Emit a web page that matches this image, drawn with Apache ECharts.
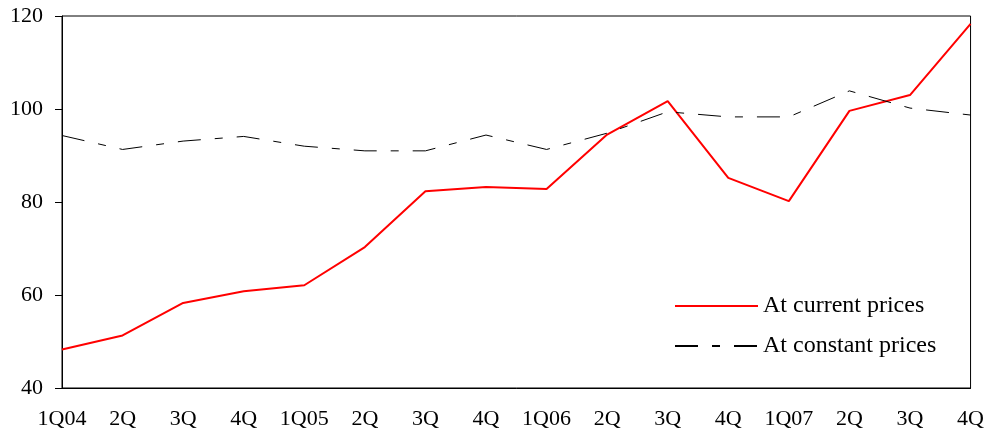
<!DOCTYPE html>
<html>
<head>
<meta charset="utf-8">
<script src="https://cdn.jsdelivr.net/npm/echarts@6/dist/echarts.min.js"></script>
<style>
html,body{margin:0;padding:0;background:#fff;}
#chart{width:987px;height:434px;}
</style>
</head>
<body>
<div id="chart"></div>
<script>
var categories = ['1Q04','2Q','3Q','4Q','1Q05','2Q','3Q','4Q','1Q06','2Q','3Q','4Q','1Q07','2Q','3Q','4Q'];
var currentPrices = [48.3, 51.3, 58.3, 60.8, 62.1, 70.3, 82.3, 83.2, 82.8, 94.5, 101.7, 85.2, 80.2, 99.6, 103.0, 118.3];
var constantPrices = [94.3, 91.3, 93.1, 94.1, 92.0, 91.0, 91.0, 94.4, 91.3, 94.8, 99.4, 98.3, 98.3, 103.9, 100.2, 98.7];
var yTicks = [40, 60, 80, 100, 120];

var font = 'Liberation Serif, Times New Roman, serif';
var chart = echarts.init(document.getElementById('chart'));
chart.setOption({
  animation: false,
  backgroundColor: '#fff',
  grid: {left: 62, right: 16, top: 16, bottom: 46, show: true, borderColor: '#000', borderWidth: 1},
  legend: {
    orient: 'vertical',
    left: 674,
    top: 294,
    padding: 0,
    itemWidth: 83,
    itemHeight: 20,
    itemGap: 16,
    itemStyle: {opacity: 0},
    textStyle: {fontFamily: font, fontSize: 24, color: '#000', padding: [0, 0, 0, 0]},
    data: ['At current prices', 'At constant prices']
  },
  xAxis: {
    type: 'category',
    data: categories,
    boundaryGap: false,
    axisLine: {lineStyle: {color: '#000', width: 1}},
    axisTick: {show: false},
    axisLabel: {fontFamily: font, fontSize: 22, color: '#000', margin: 20, interval: 0},
    splitLine: {show: false}
  },
  yAxis: {
    type: 'value',
    min: yTicks[0],
    max: yTicks[yTicks.length - 1],
    interval: 20,
    axisLine: {show: true, lineStyle: {color: '#000', width: 1}},
    axisTick: {show: true, length: 7, lineStyle: {color: '#000'}},
    axisLabel: {fontFamily: font, fontSize: 22, color: '#000', margin: 19},
    splitLine: {show: false}
  },
  series: [
    {
      name: 'At current prices',
      type: 'line',
      data: currentPrices,
      symbol: 'none',
      lineStyle: {color: '#ff0000', width: 2},
      itemStyle: {color: '#ff0000'}
    },
    {
      name: 'At constant prices',
      type: 'line',
      data: constantPrices,
      symbol: 'none',
      lineStyle: {color: '#000', width: 1, type: [23, 14, 8, 14]},
      itemStyle: {color: '#000'}
    }
  ]
});
</script>
</body>
</html>
